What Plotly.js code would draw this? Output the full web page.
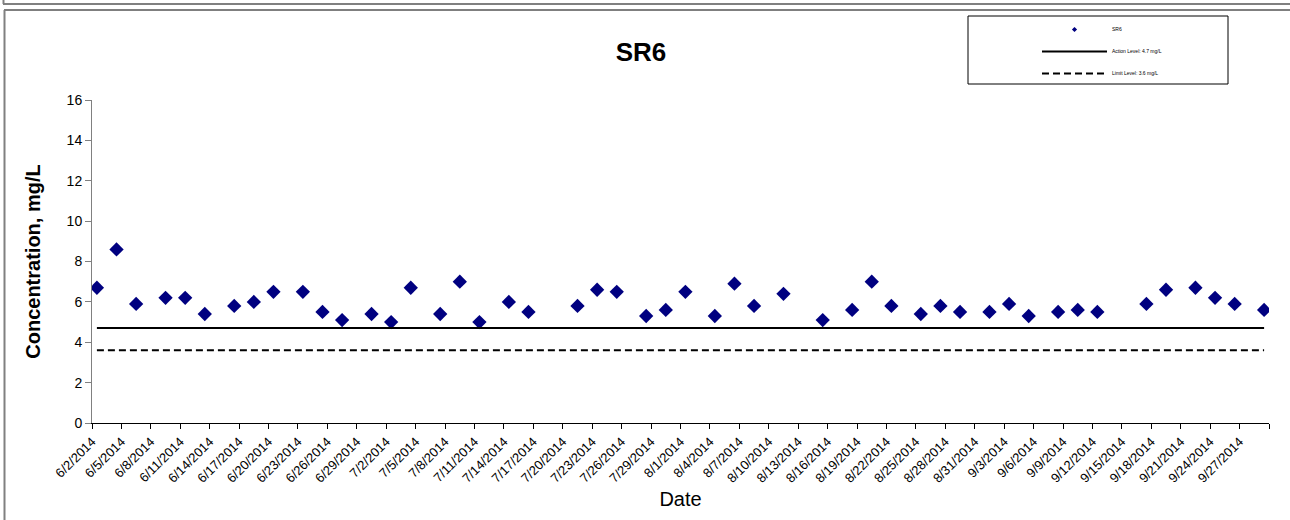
<!DOCTYPE html>
<html>
<head>
<meta charset="utf-8">
<script src="https://cdn.plot.ly/plotly-3.0.1.min.js"></script>
<style>
  html, body { margin: 0; padding: 0; background: #fff; }
  #chart { position: absolute; left: 0; top: 0; width: 1290px; height: 520px; }
</style>
</head>
<body>
<div id="chart"></div>
<script>
// ---- data ----
const sampleDates = ['2014-06-02','2014-06-04','2014-06-06','2014-06-09','2014-06-11','2014-06-13',
  '2014-06-16','2014-06-18','2014-06-20','2014-06-23','2014-06-25','2014-06-27',
  '2014-06-30','2014-07-02','2014-07-04','2014-07-07','2014-07-09','2014-07-11',
  '2014-07-14','2014-07-16','2014-07-21','2014-07-23','2014-07-25','2014-07-28',
  '2014-07-30','2014-08-01','2014-08-04','2014-08-06','2014-08-08','2014-08-11',
  '2014-08-15','2014-08-18','2014-08-20','2014-08-22','2014-08-25','2014-08-27',
  '2014-08-29','2014-09-01','2014-09-03','2014-09-05','2014-09-08','2014-09-10',
  '2014-09-12','2014-09-17','2014-09-19','2014-09-22','2014-09-24','2014-09-26',
  '2014-09-29'];
const sr6Values = [6.7,8.6,5.9,6.2,6.2,5.4,
  5.8,6.0,6.5,6.5,5.5,5.1,
  5.4,5.0,6.7,5.4,7.0,5.0,
  6.0,5.5,5.8,6.6,6.5,5.3,
  5.6,6.5,5.3,6.9,5.8,6.4,
  5.1,5.6,7.0,5.8,5.4,5.8,
  5.5,5.5,5.9,5.3,5.5,5.6,
  5.5,5.9,6.6,6.7,6.2,5.9,
  5.6];
const actionLevel = 4.7;
const limitLevel = 3.6;
const seriesNames = ['SR6', 'Action Level: 4.7 mg/L', 'Limit Level: 3.6 mg/L'];
const tickLabels = ['6/2/2014','6/5/2014','6/8/2014','6/11/2014','6/14/2014','6/17/2014','6/20/2014',
  '6/23/2014','6/26/2014','6/29/2014','7/2/2014','7/5/2014','7/8/2014','7/11/2014','7/14/2014',
  '7/17/2014','7/20/2014','7/23/2014','7/26/2014','7/29/2014','8/1/2014','8/4/2014','8/7/2014',
  '8/10/2014','8/13/2014','8/16/2014','8/19/2014','8/22/2014','8/25/2014','8/28/2014','8/31/2014',
  '9/3/2014','9/6/2014','9/9/2014','9/12/2014','9/15/2014','9/18/2014','9/21/2014','9/24/2014',
  '9/27/2014'];
const axisStart = '2014-06-02';
const axisEnd = '2014-09-30';

// ---- helpers ----
function toIso(mdY) {
  const p = mdY.split('/');
  return p[2] + '-' + String(p[0]).padStart(2, '0') + '-' + String(p[1]).padStart(2, '0');
}
const mid = d => d + ' 12:00';   // Excel centers points within each day
const tickVals = tickLabels.map(toIso).concat([axisEnd]);
const tickText = tickLabels.concat(['']);

// plot-area pixel geometry
const M = {l: 92, r: 21, t: 100, b: 97};
const W = 1290, H = 520;
const PW = W - M.l - M.r, PH = H - M.t - M.b;
const px = x => (x - M.l) / PW;
const py = y => (H - M.b - y) / PH;

const FONT = 'Liberation Sans, Arial, sans-serif';
const firstX = mid(sampleDates[0]);
const lastX = mid(sampleDates[sampleDates.length - 1]);

const traces = [
  {
    x: sampleDates.map(mid), y: sr6Values, type: 'scatter', mode: 'markers',
    name: seriesNames[0], showlegend: false, hoverinfo: 'x+y',
    marker: {symbol: 'diamond', size: 11, color: '#000080'}
  },
  {
    x: [null], y: [null], type: 'scatter', mode: 'markers', name: seriesNames[0],
    legendgroup: 'a', marker: {symbol: 'diamond', size: 4, color: '#000080'}
  },
  {
    x: [firstX, lastX], y: [actionLevel, actionLevel], type: 'scatter', mode: 'lines',
    name: seriesNames[1], legendgroup: 'b',
    line: {color: '#000000', width: 2}
  },
  {
    x: [firstX, lastX], y: [limitLevel, limitLevel], type: 'scatter', mode: 'lines',
    name: seriesNames[2], legendgroup: 'c',
    line: {color: '#000000', width: 2, dash: '7px,4px'}
  }
];

const layout = {
  width: W, height: H,
  margin: M,
  paper_bgcolor: 'rgba(0,0,0,0)',
  plot_bgcolor: 'rgba(0,0,0,0)',
  font: {family: FONT, color: '#000'},
  showlegend: true,
  title: {
    text: '<b>SR6</b>', font: {family: FONT, size: 26, color: '#000'},
    xref: 'container', yref: 'container', x: 641 / W, y: 1 - 52 / H,
    xanchor: 'center', yanchor: 'middle'
  },
  xaxis: {
    type: 'date', range: [axisStart, axisEnd], autorange: false,
    tickmode: 'array', tickvals: tickVals, ticktext: tickText,
    tickangle: -45, tickfont: {family: FONT, size: 13, color: '#000'},
    ticks: 'outside', ticklen: 5, tickcolor: '#000', tickwidth: 1,
    showline: true, linecolor: '#000', linewidth: 1,
    showgrid: false, zeroline: false, automargin: false,
    title: {text: 'Date', font: {family: FONT, size: 20, color: '#000'}, standoff: 7}
  },
  yaxis: {
    range: [0, 16], autorange: false, dtick: 2, tick0: 0,
    tickfont: {family: FONT, size: 14, color: '#000'},
    ticks: 'outside', ticklen: 6, tickcolor: '#808080', tickwidth: 1,
    showline: true, linecolor: '#808080', linewidth: 1,
    showgrid: false, zeroline: false, automargin: false,
    title: {text: '<b>Concentration, mg/L</b>', font: {family: FONT, size: 20, color: '#000'}, standoff: 20}
  },
  legend: {
    x: px(1037), y: py(15), xanchor: 'left', yanchor: 'top',
    bgcolor: 'rgba(0,0,0,0)', borderwidth: 0,
    font: {family: FONT, size: 5, color: '#000'},
    itemwidth: 65, tracegroupgap: 3, traceorder: 'grouped'
  },
  shapes: [
    // legend box
    {type: 'rect', xref: 'paper', yref: 'paper', x0: px(968), x1: px(1228), y0: py(16), y1: py(84),
     line: {color: '#000', width: 1}, fillcolor: 'rgba(0,0,0,0)', layer: 'below'},
    // outer chart frame
    {type: 'line', xref: 'paper', yref: 'paper', x0: px(4), x1: px(1290), y0: py(10), y1: py(10),
     line: {color: '#000', width: 1}},
    {type: 'line', xref: 'paper', yref: 'paper', x0: px(4.5), x1: px(4.5), y0: py(10), y1: py(520),
     line: {color: '#808080', width: 2}},
    // previous chart frame bottom
    {type: 'line', xref: 'paper', yref: 'paper', x0: px(3), x1: px(1290), y0: py(4), y1: py(4),
     line: {color: '#808080', width: 2}},
    {type: 'line', xref: 'paper', yref: 'paper', x0: px(3.5), x1: px(3.5), y0: py(0), y1: py(4),
     line: {color: '#808080', width: 2}}
  ]
};

Plotly.newPlot('chart', traces, layout, {displayModeBar: false, staticPlot: true});
</script>
</body>
</html>
